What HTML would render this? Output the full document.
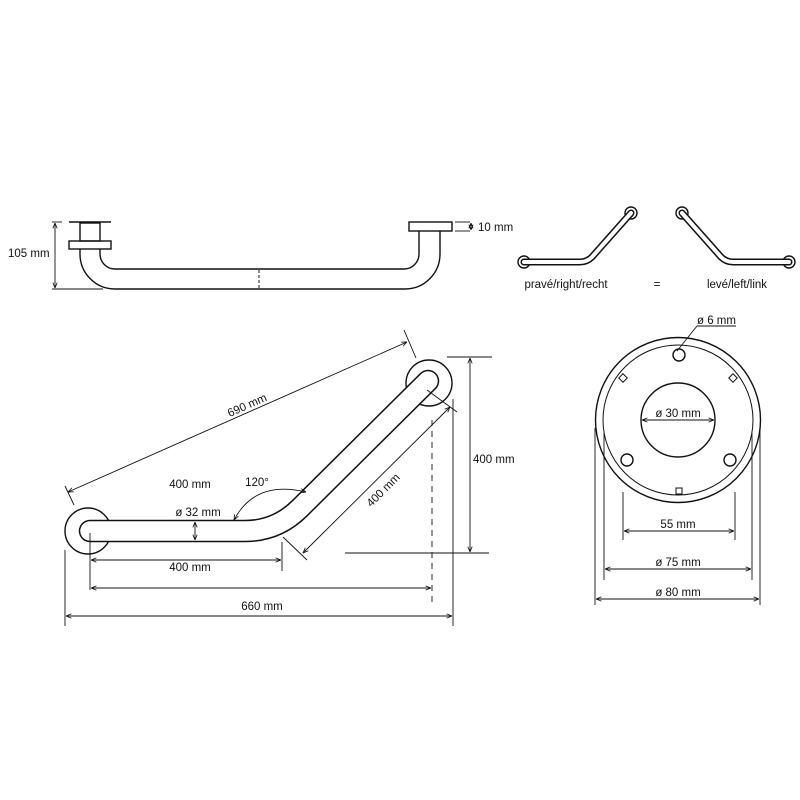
<!DOCTYPE html>
<html><head><meta charset="utf-8"><style>
html,body{margin:0;padding:0;background:#fff}
svg{display:block}
text{font-family:"Liberation Sans",sans-serif;font-size:11.5px;fill:#111}
</style></head><body>
<svg width="800" height="800" viewBox="0 0 800 800" xmlns="http://www.w3.org/2000/svg">
<defs>
<marker id="a" viewBox="0 0 10 10" refX="10" refY="5" markerWidth="6" markerHeight="6" orient="auto-start-reverse"><path d="M0,1 L10,5 L0,9" fill="none" stroke="#111" stroke-width="1.5"/></marker>
</defs>
<g fill="none" stroke="#111" stroke-width="1.4">
<!-- top view -->
<rect x="69" y="241" width="42" height="8" fill="#fff"/>
<rect x="80" y="223" width="20" height="18"/>
<line x1="69" y1="222" x2="111" y2="222"/>
<rect x="409" y="222" width="43" height="9"/>
<path d="M80,249 V254 A35,35 0 0 0 115,289 H405 A35,35 0 0 0 440,254 V231"/>
<path d="M100,249 V254 A15,15 0 0 0 115,269 H404 A15,15 0 0 0 419,254 V231"/>
<line x1="259" y1="270" x2="259" y2="288" stroke-dasharray="3,2" stroke-width="1"/>
<g stroke-width="0.9">
<line x1="52" y1="222" x2="62" y2="222"/>
<line x1="52" y1="289" x2="103" y2="289"/>
<line x1="55" y1="223" x2="55" y2="288" marker-start="url(#a)" marker-end="url(#a)"/>
<line x1="455" y1="222" x2="470" y2="222"/>
<line x1="455" y1="231" x2="470" y2="231"/>
<line x1="471" y1="223" x2="471" y2="230" marker-start="url(#a)" marker-end="url(#a)"/>
</g>
<!-- icons -->
<circle cx="524" cy="262" r="6"/><circle cx="631" cy="213" r="6"/>
<circle cx="682" cy="213" r="6"/><circle cx="789" cy="262" r="6"/>
</g>
<g fill="none" stroke-linecap="round" stroke-linejoin="round">
<path d="M524,262 H580 Q587,262 592,257 L631,213" stroke="#111" stroke-width="7"/>
<path d="M524,262 H580 Q587,262 592,257 L631,213" stroke="#fff" stroke-width="4"/>
<path d="M789,262 H733 Q726,262 721,257 L682,213" stroke="#111" stroke-width="7"/>
<path d="M789,262 H733 Q726,262 721,257 L682,213" stroke="#fff" stroke-width="4"/>
</g>
<!-- main view -->
<g fill="none" stroke="#111" stroke-width="1.4">
<circle cx="88" cy="531" r="23" fill="#fff"/>
<circle cx="429" cy="383" r="23" fill="#fff"/>
</g>
<g fill="none" stroke-linecap="round" stroke-linejoin="round">
<path d="M90,531 H245 Q277,531 300,508 L428,381" stroke="#111" stroke-width="22.5"/>
<path d="M90,531 H245 Q277,531 300,508 L428,381" stroke="#fff" stroke-width="19.5"/>
</g>
<g fill="none" stroke="#111" stroke-width="0.9">
<line x1="68" y1="492" x2="407" y2="342" marker-start="url(#a)" marker-end="url(#a)"/>
<line x1="65" y1="486" x2="74" y2="505"/>
<line x1="404" y1="330" x2="416" y2="358"/>
<path d="M234,520 Q255,480 306,492" marker-start="url(#a)" marker-end="url(#a)"/>
<line x1="195" y1="522" x2="195" y2="540" marker-start="url(#a)" marker-end="url(#a)"/>
<line x1="90" y1="533" x2="90" y2="590"/>
<line x1="282" y1="542" x2="282" y2="571"/>
<line x1="91" y1="560" x2="281" y2="560" marker-start="url(#a)" marker-end="url(#a)"/>
<line x1="91" y1="588" x2="431" y2="588" marker-start="url(#a)" marker-end="url(#a)"/>
<line x1="432" y1="420" x2="432" y2="606" stroke-dasharray="6,5"/>
<line x1="65" y1="550" x2="65" y2="626"/>
<line x1="453" y1="399" x2="453" y2="626"/>
<line x1="66" y1="616" x2="452" y2="616" marker-start="url(#a)" marker-end="url(#a)"/>
<line x1="447" y1="357" x2="492" y2="357"/>
<line x1="345" y1="553" x2="489" y2="553"/>
<line x1="470" y1="358" x2="470" y2="552" marker-start="url(#a)" marker-end="url(#a)"/>
<line x1="283" y1="537" x2="307" y2="560"/>
<line x1="427" y1="390" x2="457" y2="412"/>
<line x1="303" y1="553" x2="450" y2="407" marker-start="url(#a)" marker-end="url(#a)"/>
</g>
<!-- flange -->
<g fill="none" stroke="#111" stroke-width="1.4">
<circle cx="678" cy="420" r="82.5"/>
<circle cx="678" cy="420" r="75" stroke-width="1"/>
<circle cx="678" cy="420" r="37"/>
<circle cx="679" cy="355" r="6"/>
<circle cx="627" cy="460" r="6"/>
<circle cx="730" cy="460" r="6"/>
<rect x="676" y="488" width="6" height="6" stroke-width="1"/>
<rect x="620" y="375" width="6" height="6" stroke-width="1" transform="rotate(45 623 378)"/>
<rect x="730" y="375" width="6" height="6" stroke-width="1" transform="rotate(-45 733 378)"/>
</g>
<g fill="none" stroke="#111" stroke-width="0.9">
<line x1="677" y1="351" x2="697" y2="326"/>
<line x1="697" y1="326" x2="736" y2="326"/>
<line x1="642" y1="420" x2="714" y2="420" marker-start="url(#a)" marker-end="url(#a)"/>
<line x1="623" y1="492" x2="623" y2="540"/><line x1="735" y1="492" x2="735" y2="540"/>
<line x1="624" y1="531" x2="734" y2="531" marker-start="url(#a)" marker-end="url(#a)"/>
<line x1="604" y1="433" x2="604" y2="580"/><line x1="752" y1="433" x2="752" y2="580"/>
<line x1="605" y1="569" x2="751" y2="569" marker-start="url(#a)" marker-end="url(#a)"/>
<line x1="595" y1="428" x2="595" y2="605"/><line x1="760" y1="428" x2="760" y2="605"/>
<line x1="596" y1="599" x2="759" y2="599" marker-start="url(#a)" marker-end="url(#a)"/>
</g>
<!-- texts -->
<text x="8" y="257">105 mm</text>
<text x="478" y="231">10 mm</text>
<text x="566" y="288" text-anchor="middle">pravé/right/recht</text>
<text x="657" y="288" text-anchor="middle">=</text>
<text x="737" y="288" text-anchor="middle">levé/left/link</text>
<text x="247" y="409" text-anchor="middle" transform="rotate(-24 247 405)">690 mm</text>
<text x="190" y="488" text-anchor="middle">400 mm</text>
<text x="257" y="486" text-anchor="middle">120°</text>
<text x="198" y="516" text-anchor="middle">ø 32 mm</text>
<text x="190" y="571" text-anchor="middle">400 mm</text>
<text x="262" y="610" text-anchor="middle">660 mm</text>
<text x="473" y="463">400 mm</text>
<text x="383" y="494" text-anchor="middle" transform="rotate(-45 383 490)">400 mm</text>
<text x="697" y="324">ø 6 mm</text>
<text x="678" y="417" text-anchor="middle">ø 30 mm</text>
<text x="678" y="528" text-anchor="middle">55 mm</text>
<text x="678" y="566" text-anchor="middle">ø 75 mm</text>
<text x="678" y="596" text-anchor="middle">ø 80 mm</text>
</svg>
</body></html>
